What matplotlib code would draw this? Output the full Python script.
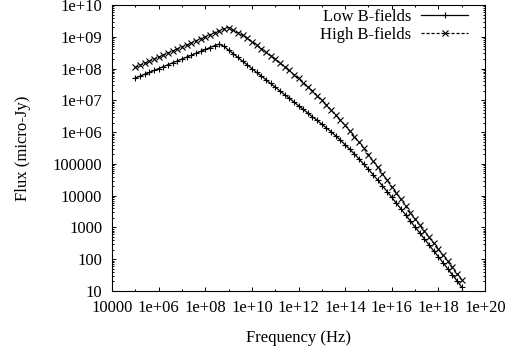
import matplotlib
matplotlib.use("Agg")
import matplotlib.pyplot as plt
from matplotlib.ticker import FixedLocator, FixedFormatter, LogLocator, NullFormatter

# log10 of frequency (Hz) at each plotted point
freq_exp = [5.0, 5.2, 5.4, 5.6, 5.8, 6.0, 6.2, 6.4, 6.6, 6.8,
            7.0, 7.2, 7.4, 7.6, 7.8, 8.0, 8.2, 8.4, 8.6, 8.8,
            9.0, 9.2, 9.4, 9.6, 9.8, 10.0, 10.2, 10.4, 10.6, 10.8,
            11.0, 11.2, 11.4, 11.6, 11.8, 12.0, 12.2, 12.4, 12.6, 12.8,
            13.0, 13.2, 13.4, 13.6, 13.8, 14.0, 14.2, 14.4, 14.6, 14.8,
            15.0, 15.2, 15.4, 15.6, 15.8, 16.0, 16.2, 16.4, 16.6, 16.8,
            17.0, 17.2, 17.4, 17.6, 17.8, 18.0, 18.2, 18.4, 18.6, 18.8,
            19.0]

# log10 of flux (micro-Jy)
low_exp = [7.70, 7.76, 7.82, 7.88, 7.94, 8.00, 8.06, 8.12, 8.18, 8.24,
           8.30, 8.36, 8.42, 8.48, 8.54, 8.60, 8.66, 8.72, 8.77, 8.70,
           8.58, 8.47, 8.35, 8.23, 8.12, 8.00, 7.88, 7.77, 7.65, 7.53,
           7.42, 7.30, 7.18, 7.07, 6.95, 6.83, 6.72, 6.60, 6.48, 6.37,
           6.25, 6.13, 6.01, 5.88, 5.75, 5.60, 5.46, 5.31, 5.15, 4.99,
           4.83, 4.66, 4.49, 4.31, 4.13, 3.95, 3.76, 3.58, 3.39, 3.20,
           3.01, 2.83, 2.64, 2.45, 2.26, 2.08, 1.89, 1.70, 1.51, 1.32,
           1.12]

high_exp = [8.04, 8.10, 8.17, 8.23, 8.30, 8.36, 8.42, 8.49, 8.55, 8.62,
            8.68, 8.74, 8.81, 8.87, 8.94, 9.00, 9.06, 9.13, 9.19, 9.25,
            9.29, 9.21, 9.13, 9.05, 8.96, 8.85, 8.74, 8.63, 8.52, 8.41,
            8.30, 8.18, 8.06, 7.94, 7.81, 7.69, 7.56, 7.43, 7.30, 7.15,
            7.00, 6.85, 6.69, 6.53, 6.37, 6.21, 6.04, 5.86, 5.68, 5.49,
            5.29, 5.09, 4.89, 4.69, 4.49, 4.28, 4.08, 3.88, 3.67, 3.47,
            3.27, 3.07, 2.88, 2.69, 2.50, 2.31, 2.12, 1.93, 1.74, 1.55,
            1.36]

series_labels = ["Low B-fields", "High B-fields"]

xtick_vals = [1e4, 1e6, 1e8, 1e10, 1e12, 1e14, 1e16, 1e18, 1e20]
xtick_labels = ["10000", "1e+06", "1e+08", "1e+10", "1e+12", "1e+14",
                "1e+16", "1e+18", "1e+20"]
xminor_vals = [1e5, 1e7, 1e9, 1e11, 1e13, 1e15, 1e17, 1e19]
ytick_vals = [1e1, 1e2, 1e3, 1e4, 1e5, 1e6, 1e7, 1e8, 1e9, 1e10]
ytick_labels = ["10", "100", "1000", "10000", "100000", "1e+06", "1e+07",
                "1e+08", "1e+09", "1e+10"]

freq = [10 ** e for e in freq_exp]
low = [10 ** e for e in low_exp]
high = [10 ** e for e in high_exp]

plt.rcParams['font.family'] = ['Liberation Serif', 'DejaVu Serif']
plt.rcParams['font.size'] = 12

fig = plt.figure(figsize=(5.13, 3.52), dpi=100)
ax = fig.add_axes([112 / 513, 61 / 352, 373 / 513, 286 / 352])

ax.plot(freq, low, color='black', lw=0.9, marker='+', ms=5, mew=0.8,
        label=series_labels[0])
ax.plot(freq, high, color='black', lw=0.9, marker='x', ms=4, mew=0.8,
        dashes=(2.5, 1.5), label=series_labels[1])

ax.set_xscale('log')
ax.set_yscale('log')
ax.set_xlim(1e4, 1e20)
ax.set_ylim(1e1, 1e10)

ax.xaxis.set_major_locator(FixedLocator(xtick_vals))
ax.xaxis.set_major_formatter(FixedFormatter(xtick_labels))
ax.xaxis.set_minor_locator(FixedLocator(xminor_vals))
ax.xaxis.set_minor_formatter(NullFormatter())
ax.yaxis.set_major_locator(FixedLocator(ytick_vals))
ax.yaxis.set_major_formatter(FixedFormatter(ytick_labels))
ax.yaxis.set_minor_locator(LogLocator(base=10, subs=range(2, 10), numticks=20))
ax.yaxis.set_minor_formatter(NullFormatter())

ax.tick_params(which='both', direction='in', top=True, right=True, width=0.7)
ax.tick_params(which='major', length=2.6)
ax.tick_params(which='minor', length=1.4)
ax.tick_params(axis='y', which='major', pad=7)
ax.tick_params(axis='x', which='major', pad=6.5)
for s in ax.spines.values():
    s.set_linewidth(0.8)

fig.text(298.5 / 513, 1 - 338 / 352, "Frequency (Hz)", ha='center', va='center')
fig.text(23 / 513, 1 - 148 / 352, "Flux (micro-Jy)", ha='center', va='center',
         rotation=90)

leg = ax.legend(loc='upper right', bbox_to_anchor=(468 / 513, 1 - 9 / 352),
                bbox_transform=fig.transFigure, frameon=False, markerfirst=False,
                numpoints=1, handlelength=2.8, handletextpad=0.6,
                borderpad=0, borderaxespad=0, labelspacing=0.1)

fig.savefig("out.png", dpi=100)
